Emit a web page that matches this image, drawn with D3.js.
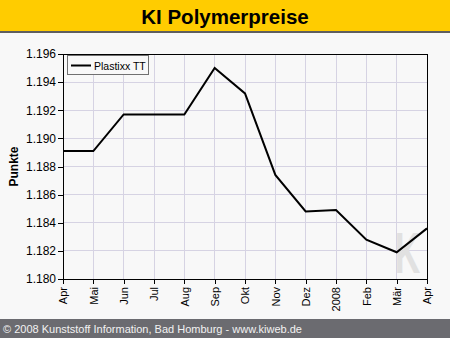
<!DOCTYPE html>
<html>
<head>
<meta charset="utf-8">
<script src="https://cdn.jsdelivr.net/npm/d3@7"></script>
<style>
  html, body { margin: 0; padding: 0; background: #f8f8f8; }
  svg { display: block; }
</style>
</head>
<body>
<svg id="chart" width="450" height="338"></svg>
<script>
// Monthly index values, April 2007 to April 2008
const months = ["Apr", "Mai", "Jun", "Jul", "Aug", "Sep", "Okt", "Nov", "Dez", "2008", "Feb", "Mär", "Apr"];
const plastixxTT = [1.1891, 1.1891, 1.1917, 1.1917, 1.1917, 1.1950, 1.1932, 1.1874, 1.1848, 1.1849, 1.1828, 1.1819, 1.1836];
const yTicks = [1.180, 1.182, 1.184, 1.186, 1.188, 1.190, 1.192, 1.194, 1.196];
const seriesName = "Plastixx TT";
const title = "KI Polymerpreise";
const yTitle = "Punkte";
const footer = "© 2008 Kunststoff Information, Bad Homburg - www.kiweb.de";

const W = 450, H = 338;
const plot = { left: 63, right: 427, top: 54, bottom: 279 };
const font = "'Liberation Sans', Arial, sans-serif";

const svg = d3.select("#chart");

// page background
svg.append("rect").attr("width", W).attr("height", H).attr("fill", "#f8f8f8");

// title band
svg.append("rect").attr("x", 0).attr("y", 0).attr("width", W).attr("height", 31).attr("fill", "#ffcc00");
svg.append("rect").attr("x", 0).attr("y", 31).attr("width", W).attr("height", 2).attr("fill", "#5f5f5f");
svg.append("text")
  .attr("x", W / 2).attr("y", 24)
  .attr("text-anchor", "middle")
  .attr("font-family", font).attr("font-weight", "bold").attr("font-size", 20.5)
  .attr("fill", "#000")
  .text(title);

// scales
const x = d3.scalePoint().domain(d3.range(months.length)).range([plot.left, plot.right]);
const y = d3.scaleLinear().domain([1.180, 1.196]).range([plot.bottom, plot.top]);

// grid
const grid = svg.append("g").attr("stroke", "#d6d3e3").attr("stroke-width", 1).attr("shape-rendering", "crispEdges");
grid.selectAll("line.v").data(d3.range(months.length)).join("line")
  .attr("x1", d => x(d)).attr("x2", d => x(d))
  .attr("y1", plot.top).attr("y2", plot.bottom);
grid.selectAll("line.h").data(yTicks).join("line")
  .attr("x1", plot.left).attr("x2", plot.right)
  .attr("y1", d => y(d)).attr("y2", d => y(d));

// watermark letter
svg.append("text")
  .attr("transform", `translate(${x(11) - 2},273) scale(0.62,1)`)
  .attr("font-family", font).attr("font-weight", "bold").attr("font-size", 57)
  .attr("fill", "#e1e1e1")
  .text("K");

// frame
svg.append("rect")
  .attr("x", plot.left).attr("y", plot.top)
  .attr("width", plot.right - plot.left).attr("height", plot.bottom - plot.top)
  .attr("fill", "none").attr("stroke", "#000").attr("stroke-width", 1)
  .attr("shape-rendering", "crispEdges");

// y axis
const yAxis = d3.axisLeft(y).tickValues(yTicks).tickSize(5).tickPadding(2).tickFormat(d3.format(".3f"));
const gy = svg.append("g").attr("transform", `translate(${plot.left},0)`).call(yAxis);
gy.select(".domain").remove();
gy.selectAll("line").attr("stroke", "#000").attr("shape-rendering", "crispEdges");
gy.selectAll("text").attr("font-family", font).attr("font-size", 12).attr("fill", "#000");

// x axis with rotated month labels
const xAxis = d3.axisBottom(x).tickSize(5).tickPadding(3).tickFormat(i => months[i]);
const gx = svg.append("g").attr("transform", `translate(0,${plot.bottom})`).call(xAxis);
gx.select(".domain").remove();
gx.selectAll("line").attr("stroke", "#000").attr("shape-rendering", "crispEdges");
gx.selectAll("text")
  .attr("font-family", font).attr("font-size", 11).attr("fill", "#000")
  .attr("transform", "rotate(-90)")
  .attr("text-anchor", "end")
  .attr("x", -8).attr("y", 0).attr("dy", "0.35em");

// y axis title
svg.append("text")
  .attr("transform", `translate(18,${(plot.top + plot.bottom) / 2}) rotate(-90)`)
  .attr("text-anchor", "middle")
  .attr("font-family", font).attr("font-weight", "bold").attr("font-size", 12)
  .text(yTitle);

// series line
const line = d3.line().x((d, i) => x(i)).y(d => y(d));
svg.append("path")
  .datum(plastixxTT)
  .attr("d", line)
  .attr("fill", "none").attr("stroke", "#000").attr("stroke-width", 2)
  .attr("stroke-linejoin", "miter");

// legend
const lg = svg.append("g");
lg.append("rect").attr("x", 67.5).attr("y", 55.5).attr("width", 81).attr("height", 19)
  .attr("fill", "#f8f8f8").attr("stroke", "#707070").attr("stroke-width", 1);
lg.append("line").attr("x1", 71).attr("x2", 91).attr("y1", 65.5).attr("y2", 65.5)
  .attr("stroke", "#000").attr("stroke-width", 2);
lg.append("text").attr("x", 94).attr("y", 69.5)
  .attr("font-family", font).attr("font-size", 10.5).attr("fill", "#000")
  .text(seriesName);

// footer band
svg.append("rect").attr("x", 0).attr("y", 319).attr("width", W).attr("height", H - 319).attr("fill", "#6b6b70");
svg.append("text")
  .attr("x", 3).attr("y", 333)
  .attr("font-family", font).attr("font-size", 11).attr("fill", "#f2f2f2")
  .text(footer);
</script>
</body>
</html>
